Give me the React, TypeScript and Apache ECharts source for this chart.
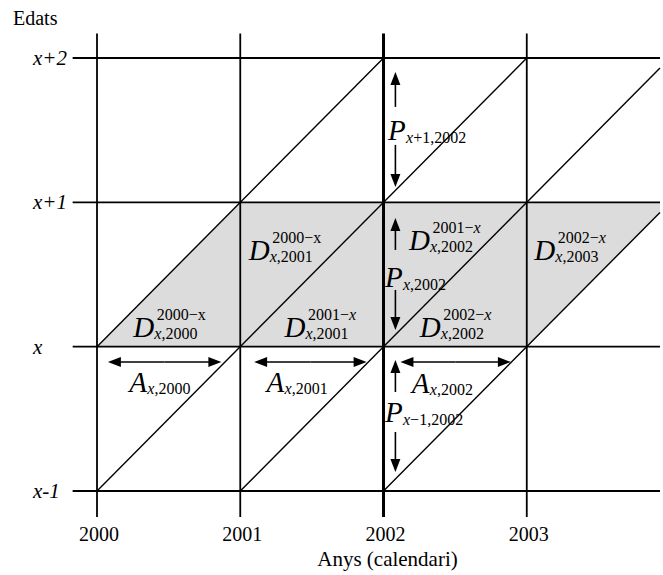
import React, { useEffect, useRef } from "react";
import * as echarts from "echarts";

const FONT = "'Liberation Serif', 'Times New Roman', Times, serif";

// Axis ticks
const yearTicks = [2000, 2001, 2002, 2003];
const ageTicks = [-1, 0, 1, 2];
const ageTickLabels = ["x-1", "x", "x+1", "x+2"];
const yearMin = 2000;
const yearMax = 2003.93;
const ageMin = -1;
const ageMax = 2;
const gridYearStart = 1999.83;
const gridAgeStart = -1.18;
const gridAgeEnd = 2.17;
const boldYear = 2002;

// Cohort (life) lines: [year0, age0, year1, age1]
const cohortLines = [
  [2000, -1, 2003, 2],
  [2000, 0, 2002, 2],
  [2001, -1, 2003.93, 1.93],
  [2002, -1, 2003.93, 0.93],
];

// Shaded parallelogram (age x)
const shadedArea = [
  [2000, 0],
  [2001, 1],
  [2003.93, 1],
  [2003.93, 0.93],
  [2003, 0],
];

// Horizontal double arrows: [yearFrom, yearTo, age]
const ageArrows = [
  [2000.076, 2000.868, -0.106],
  [2001.097, 2001.882, -0.106],
  [2002.118, 2002.889, -0.106],
];

// Vertical split arrows: [year, topTip, topTail, bottomTail, bottomTip]
const periodArrows = [
  [2002.083, 1.903, 1.661, 1.398, 1.107],
  [2002.083, 0.891, 0.67, 0.393, 0.116],
  [2002.083, -0.092, -0.314, -0.591, -0.868],
];

// Labels
const deathLabels = [
  { sup: "{n|2000−x}", sub: "{i|x}{n|,2000}", year: 2000.264, age: 0.067 },
  { sup: "{n|2000−x}", sub: "{i|x}{n|,2001}", year: 2001.069, age: 0.601 },
  { sup: "{n|2001−}{i|x}", sub: "{i|x}{n|,2001}", year: 2001.319, age: 0.067 },
  { sup: "{n|2001−}{i|x}", sub: "{i|x}{n|,2002}", year: 2002.188, age: 0.67 },
  { sup: "{n|2002−}{i|x}", sub: "{i|x}{n|,2002}", year: 2002.264, age: 0.067 },
  { sup: "{n|2002−}{i|x}", sub: "{i|x}{n|,2003}", year: 2003.063, age: 0.601 },
];
const periodLabels = [
  { sub: "{i|x}{n|+1,2002}", year: 2002.056, age: 1.431 },
  { sub: "{i|x}{n|,2002}", year: 2002.035, age: 0.413 },
  { sub: "{i|x}{n|−1,2002}", year: 2002.035, age: -0.522 },
];
const ageLabels = [
  { sub: "{i|x}{n|,2000}", year: 2000.243, age: -0.314 },
  { sub: "{i|x}{n|,2001}", year: 2001.201, age: -0.314 },
  { sub: "{i|x}{n|,2002}", year: 2002.215, age: -0.321 },
];

const allLabels = [
  ...deathLabels.map((l) => ({ ...l, letter: "D" })),
  ...periodLabels.map((l) => ({ ...l, letter: "P", sup: "" })),
  ...ageLabels.map((l) => ({ ...l, letter: "A", sup: "" })),
];

const letterOffsets: Record<string, any> = {
  D: { letterDx: -1.5, supDx: 22, supDy: -17, subDx: 19.5, subDy: 2 },
  P: { letterDx: -3.5, supDx: 0, supDy: 0, subDx: 14.5, subDy: 3 },
  A: { letterDx: -2.5, supDx: 0, supDy: 0, subDx: 15.5, subDy: 2 },
};

const fontI = `italic 16px ${FONT}`;
const fontN = `16px ${FONT}`;
const richSmall = {
  i: { font: fontI, fontStyle: "italic", fontSize: 16, fontFamily: FONT, fill: "#000" },
  n: { font: fontN, fontStyle: "normal", fontSize: 16, fontFamily: FONT, fill: "#000" },
};

export default function App() {
  const ref = useRef<HTMLDivElement>(null);
  useEffect(() => {
    if (!ref.current) return;
    const chart = echarts.init(ref.current, undefined, { renderer: "svg" });

    const segs: number[][] = [];
    yearTicks.forEach((y) =>
      segs.push([y, gridAgeStart, y, gridAgeEnd, y === boldYear ? 3 : 1.8])
    );
    ageTicks.forEach((a) => segs.push([gridYearStart, a, yearMax, a, 1.8]));
    cohortLines.forEach((c) => segs.push([c[0], c[1], c[2], c[3], 1.4]));

    const arrowSegs: number[][] = [];
    ageArrows.forEach(([a, b, age]) => {
      const m = (a + b) / 2;
      arrowSegs.push([m, age, a, age], [m, age, b, age]);
    });
    periodArrows.forEach(([yr, t1, t2, b2, b1]) => {
      arrowSegs.push([yr, t2, yr, t1], [yr, b2, yr, b1]);
    });

    const smallText = (x: number, y: number, text: string) => ({
      type: "text",
      x,
      y,
      style: {
        text,
        font: fontN,
        fontFamily: FONT,
        fontSize: 16,
        fill: "#000",
        rich: richSmall,
        textAlign: "left",
        textVerticalAlign: "middle",
        align: "left",
        verticalAlign: "middle",
      },
    });

    const option: any = {
      animation: false,
      backgroundColor: "#fff",
      grid: { left: 97, right: 0, top: 58, bottom: 84, containLabel: false },
      xAxis: {
        type: "value",
        min: yearMin,
        max: yearMax,
        interval: 1,
        axisLine: { show: false },
        axisTick: { show: false },
        splitLine: { show: false },
        axisLabel: {
          margin: 33,
          fontSize: 20,
          color: "#000",
          fontFamily: FONT,
          padding: [0, 0, 0, 4],
          formatter: (v: number) => (yearTicks.includes(v) ? String(v) : ""),
        },
        name: "Anys (calendari)",
        nameLocation: "middle",
        nameGap: 54,
        nameTextStyle: {
          fontSize: 21,
          color: "#000",
          fontFamily: FONT,
          padding: [0, 0, 0, 18],
        },
      },
      yAxis: {
        type: "value",
        min: ageMin,
        max: ageMax,
        interval: 1,
        axisLine: { show: false },
        axisTick: { show: false },
        splitLine: { show: false },
        axisLabel: {
          margin: 64,
          align: "left",
          fontSize: 21,
          fontStyle: "italic",
          color: "#000",
          fontFamily: FONT,
          formatter: (v: number) => {
            const i = ageTicks.indexOf(v);
            return i >= 0 ? ageTickLabels[i] : "";
          },
        },
      },
      graphic: [
        {
          type: "text",
          left: 13,
          top: 8,
          style: { text: "Edats", font: `20px ${FONT}`, fill: "#000" },
        },
      ],
      series: [
        {
          type: "custom",
          name: "shade",
          coordinateSystem: "cartesian2d",
          data: [[2000, 0]],
          z: 1,
          renderItem: (_p: any, api: any) => ({
            type: "polygon",
            shape: { points: shadedArea.map((p) => api.coord(p)) },
            style: { fill: "#dcdcdc", stroke: "none" },
          }),
        },
        {
          type: "custom",
          name: "lines",
          coordinateSystem: "cartesian2d",
          data: segs,
          encode: { x: [0, 2], y: [1, 3] },
          z: 2,
          renderItem: (params: any, api: any) => {
            const s = segs[params.dataIndex];
            const p0 = api.coord([s[0], s[1]]);
            const p1 = api.coord([s[2], s[3]]);
            return {
              type: "line",
              shape: { x1: p0[0], y1: p0[1], x2: p1[0], y2: p1[1] },
              style: { stroke: "#000", lineWidth: s[4] },
            };
          },
        },
        {
          type: "custom",
          name: "arrows",
          coordinateSystem: "cartesian2d",
          data: arrowSegs,
          encode: { x: [0, 2], y: [1, 3] },
          z: 3,
          renderItem: (params: any, api: any) => {
            const s = arrowSegs[params.dataIndex];
            const p0 = api.coord([s[0], s[1]]);
            const p1 = api.coord([s[2], s[3]]);
            const dx = p1[0] - p0[0];
            const dy = p1[1] - p0[1];
            const len = Math.hypot(dx, dy) || 1;
            const ux = dx / len;
            const uy = dy / len;
            const hl = 13;
            const hw = 5;
            const bx = p1[0] - ux * hl;
            const by = p1[1] - uy * hl;
            return {
              type: "group",
              children: [
                {
                  type: "line",
                  shape: { x1: p0[0], y1: p0[1], x2: bx + ux, y2: by + uy },
                  style: { stroke: "#000", lineWidth: 1.6 },
                },
                {
                  type: "polygon",
                  shape: {
                    points: [
                      [p1[0], p1[1]],
                      [bx - uy * hw, by + ux * hw],
                      [bx + uy * hw, by - ux * hw],
                    ],
                  },
                  style: { fill: "#000" },
                },
              ],
            };
          },
        },
        {
          type: "custom",
          name: "labels",
          coordinateSystem: "cartesian2d",
          data: allLabels.map((l) => [l.year, l.age]),
          z: 4,
          renderItem: (params: any, api: any) => {
            const l = allLabels[params.dataIndex];
            const o = letterOffsets[l.letter];
            const [px, py] = api.coord([l.year, l.age]);
            const children: any[] = [
              {
                type: "text",
                x: px + o.letterDx,
                y: py - 0.34 * 29,
                style: {
                  text: l.letter,
                  font: `italic 29px ${FONT}`,
                  fill: "#000",
                  textAlign: "left",
                  textVerticalAlign: "middle",
                  align: "left",
                  verticalAlign: "middle",
                },
              },
              smallText(px + o.subDx, py + o.subDy - 0.34 * 16, l.sub),
            ];
            if (l.sup) {
              children.push(
                smallText(px + o.supDx, py + o.supDy - 0.34 * 16, l.sup)
              );
            }
            return { type: "group", children };
          },
        },
      ],
    };
    chart.setOption(option);
    return () => chart.dispose();
  }, []);

  return (
    <div
      ref={ref}
      style={{ position: "fixed", left: 0, top: 0, width: 663, height: 575 }}
    />
  );
}
